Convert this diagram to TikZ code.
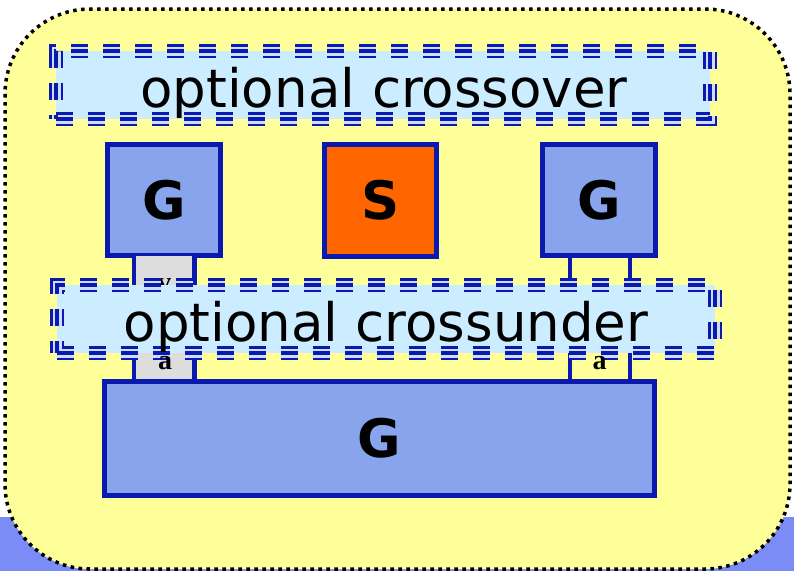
\documentclass[tikz,border=0pt]{standalone}
\usepackage{fontspec}
\newfontfamily\dv{DejaVu Sans}
\newfontfamily\lsb{Liberation Serif}
\usetikzlibrary{calc}
\definecolor{yel}{HTML}{FFFF99}
\definecolor{strip}{HTML}{7B8CF6}
\definecolor{dblue}{HTML}{0A1AAF}
\definecolor{gfill}{HTML}{88A4EC}
\definecolor{sfill}{HTML}{FF6600}
\definecolor{lblue}{HTML}{CCECFF}
\definecolor{gapc}{HTML}{CCDDFF}
\definecolor{legfill}{HTML}{DDDDDD}
\tikzset{
  box/.style={draw=dblue, line width=5pt, inner sep=0pt, outer sep=0pt, font=\dv\bfseries\fontsize{53}{60}\selectfont},
  gbox/.style={box, fill=gfill},
  sbox/.style={box, fill=sfill},
  optbox/.style={fill=lblue, inner sep=0pt, outer sep=0pt,
    draw=dblue, line width=14pt, dash pattern=on 17pt off 15pt,
    postaction={draw=gapc, line width=9pt, dash pattern=on 17pt off 15pt},
    postaction={draw=dblue, line width=3.5pt, dash pattern=on 17pt off 15pt}},
  opttext/.style={font=\dv\fontsize{53}{60}\selectfont, anchor=base, inner sep=0pt},
  leg/.style={draw=dblue, line width=4.5pt},
  smalltext/.style={font=\lsb\bfseries\fontsize{28}{30}\selectfont, anchor=base, inner sep=0pt, text height=13pt, text depth=0pt},
}
\begin{document}
\begin{tikzpicture}[x=1pt,y=-1pt]
\useasboundingbox (0,0) rectangle (794,571);
\fill[white] (0,0) rectangle (794,571);
\fill[strip] (0,517) rectangle (794,571);
\draw[fill=yel, draw=black, line width=3.5pt, dash pattern=on 3.5pt off 4.5pt, rounded corners=85pt] (5,9) rectangle (790,569);

% top crossover box
\node[optbox, minimum width=654pt, minimum height=68pt] (cross) at (383,85) {};
\node[opttext] (crosst) at (384,107) {optional crossover};

% upper boxes
\node[gbox, minimum width=113pt, minimum height=111pt] (g1) at (164,200) {\raisebox{-2.5pt}{G}};
\node[sbox, minimum width=112pt, minimum height=112pt] (s) at (380.5,200.5) {\raisebox{-2pt}{S}};
\node[gbox, minimum width=113pt, minimum height=111pt] (g2) at (599,200) {\raisebox{-2.5pt}{G}};

\coordinate (gbn) at (379.5,381);

% leg top points
\coordinate (l1) at ($(g1.south west)+(26.5,0)$);
\coordinate (l2) at ($(g1.south west)+(87,0)$);
\coordinate (r1) at ($(g2.south west)+(27.5,0)$);
\coordinate (r2) at ($(g2.south west)+(87.5,0)$);

% legs
\fill[legfill] (l1) rectangle (l2 |- gbn);
\draw[leg] (l1) -- (l1 |- gbn);
\draw[leg] (l2) -- (l2 |- gbn);
\draw[leg] (r1) -- (r1 |- gbn);
\draw[leg] (r2) -- (r2 |- gbn);

\node[smalltext] (v1) at (164,291) {v};
\node[smalltext] (v2) at (599,291) {v};

% crossunder box
\node[optbox, minimum width=658pt, minimum height=68pt] (under) at (386,319) {};
\node[opttext] (undert) at (386,341) {optional crossunder};

\node[smalltext] (a1) at (165,369) {a};
\node[smalltext] (a2) at (599.5,369) {a};

% bottom G
\node[gbox, minimum width=550pt, minimum height=114.5pt] (gb) at (379.5,438.25) {\raisebox{-3pt}{G}};
\end{tikzpicture}
\end{document}
